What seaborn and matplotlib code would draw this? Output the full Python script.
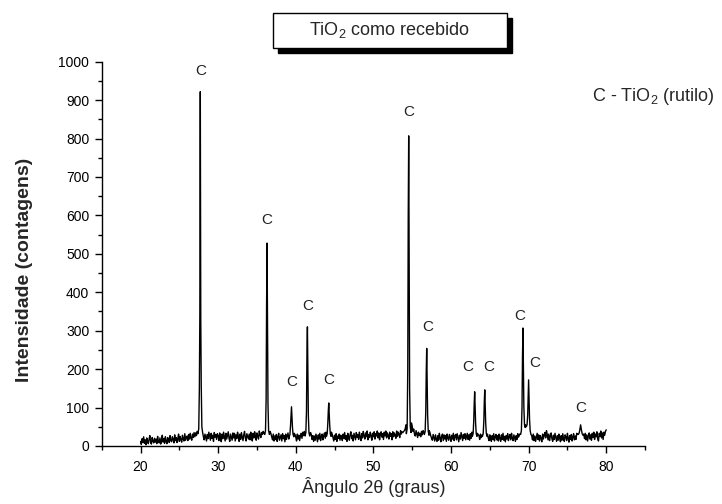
import numpy as np
import pandas as pd
import matplotlib
matplotlib.use("Agg")
import matplotlib.pyplot as plt
from matplotlib.patches import Rectangle
from matplotlib.ticker import MultipleLocator
import seaborn as sns

# Background counts, 20.0 to 80.0 deg in 0.1 deg steps
theta_start = 20.0
theta_step = 0.1
baseline_counts = [
    12, 4, 19, 9, 24, 7, 16, 3, 21, 11, 6, 18, 27, 9, 5, 22, 13, 8, 20, 10,
    18, 6, 25, 12, 8, 21, 5, 15, 28, 10, 19, 7, 24, 13, 6, 22, 16, 9, 27, 14,
    11, 24, 17, 8, 29, 14, 22, 9, 19, 31, 12, 25, 16, 10, 28, 18, 13, 32, 15, 23,
    26, 14, 30, 18, 33, 20, 15, 31, 22, 35, 24, 34, 27, 38, 35, 38, 45, 60, 45, 35,
    34, 24, 16, 31, 22, 13, 30, 19, 36, 25, 15, 33, 20, 28, 12, 35, 23, 30, 17, 32,
    26, 14, 34, 21, 11, 31, 19, 36, 24, 13, 33, 18, 28, 37, 20, 12, 31, 23, 15, 34,
    21, 33, 13, 29, 19, 36, 26, 12, 31, 17, 35, 24, 14, 29, 38, 21, 13, 32, 25, 18,
    31, 16, 36, 23, 13, 33, 21, 37, 27, 15, 34, 25, 18, 39, 29, 22, 35, 30, 38, 33,
    40, 55, 80, 200, 120, 60, 45, 38, 32, 24, 16, 31, 13, 26, 17, 30, 12, 24, 33, 15,
    22, 29, 13, 32, 19, 27, 11, 31, 17, 25, 34, 18, 28, 35, 35, 40, 50, 45, 33, 30,
    23, 13, 31, 18, 28, 14, 26, 33, 20, 36, 27, 38, 38, 45, 60, 80, 70, 50, 40, 35,
    30, 17, 27, 12, 26, 15, 31, 21, 11, 29, 18, 33, 14, 25, 31, 16, 27, 34, 20, 36,
    32, 38, 45, 60, 50, 40, 36, 30, 22, 13, 28, 17, 32, 12, 26, 20, 31, 15, 28, 23,
    14, 31, 20, 35, 17, 27, 12, 33, 23, 15, 30, 37, 19, 28, 13, 33, 25, 16, 35, 22,
    30, 17, 36, 24, 14, 32, 21, 38, 27, 18, 34, 24, 39, 16, 30, 22, 36, 27, 15, 33,
    24, 37, 18, 32, 26, 39, 21, 34, 16, 30, 37, 23, 32, 17, 36, 26, 39, 21, 34, 28,
    18, 36, 25, 32, 16, 37, 24, 34, 28, 20, 39, 25, 36, 30, 22, 40, 31, 37, 35, 38,
    40, 45, 55, 70, 120, 300, 400, 150, 80, 60, 52, 38, 44, 30, 26, 40, 31, 22, 36, 27,
    33, 24, 38, 29, 40, 36, 50, 80, 120, 90, 60, 45, 40, 34, 26, 20, 15, 30, 22, 13,
    29, 18, 12, 27, 15, 33, 21, 11, 26, 31, 14, 29, 18, 27, 12, 31, 21, 15, 30, 23,
    12, 28, 18, 33, 14, 26, 30, 16, 32, 21, 11, 28, 18, 35, 24, 14, 30, 20, 32, 16,
    25, 33, 17, 29, 15, 32, 20, 36, 32, 38, 45, 60, 50, 40, 33, 30, 27, 17, 31, 22,
    28, 35, 45, 60, 50, 40, 36, 31, 21, 14, 29, 19, 12, 27, 17, 32, 13, 24, 30, 16,
    27, 13, 31, 20, 12, 29, 17, 33, 15, 25, 11, 27, 18, 32, 14, 24, 30, 16, 33, 20,
    14, 29, 21, 12, 27, 17, 32, 23, 28, 32, 40, 55, 80, 100, 70, 50, 55, 80, 70, 45,
    60, 45, 35, 38, 27, 16, 31, 14, 26, 12, 23, 33, 17, 29, 13, 27, 20, 11, 31, 18,
    28, 35, 21, 40, 30, 16, 31, 14, 26, 34, 19, 12, 28, 17, 33, 23, 12, 27, 15, 31,
    20, 11, 27, 15, 32, 18, 12, 29, 23, 14, 33, 20, 10, 27, 17, 30, 13, 24, 32, 16,
    26, 17, 33, 30, 33, 38, 45, 50, 42, 35, 30, 31, 19, 33, 16, 29, 13, 26, 34, 18,
    29, 15, 33, 22, 36, 17, 31, 24, 37, 19, 13, 33, 25, 39, 21, 34, 17, 36, 28, 38,
    42,
]

# Rutile reflections: centre (deg) and counts at the listed offsets
peak_centers = [27.7, 36.3, 39.45, 41.5, 44.25, 54.55, 56.87, 63.05, 64.35, 69.27, 70.0, 76.7]
peak_offsets = [-0.3, -0.2, -0.12, -0.06, 0.0, 0.06, 0.12, 0.2, 0.3]
peak_profiles = [
    [32, 45, 150, 340, 922, 330, 160, 50, 35],
    [30, 40, 120, 370, 528, 320, 110, 40, 30],
    [24, 30, 55, 80, 102, 75, 50, 30, 24],
    [26, 35, 90, 240, 310, 190, 80, 35, 26],
    [25, 32, 60, 90, 112, 85, 55, 32, 25],
    [32, 45, 200, 593, 807, 467, 150, 50, 35],
    [30, 38, 90, 190, 254, 170, 80, 38, 28],
    [25, 32, 65, 110, 141, 100, 60, 32, 25],
    [25, 33, 65, 115, 146, 105, 60, 33, 25],
    [30, 40, 100, 230, 307, 210, 100, 55, 48],
    [50, 55, 80, 130, 172, 120, 70, 40, 30],
    [30, 33, 40, 48, 55, 47, 40, 32, 28],
]

# "C" markers above the peaks
label_x = [27.7, 36.3, 39.45, 41.5, 44.25, 54.55, 57.0, 62.2, 64.9, 68.9, 70.8, 76.7]
label_y = [975, 588, 167, 364, 172, 870, 310, 206, 206, 338, 217, 98]

# assemble the pattern
base_theta = theta_start + theta_step * np.arange(len(baseline_counts))
base_counts = np.array(baseline_counts)
keep = np.ones(len(base_theta), dtype=bool)
for c in peak_centers:
    keep &= np.abs(base_theta - c) > 0.3 + 1e-6
thetas = list(base_theta[keep])
counts = list(base_counts[keep])
for c, prof in zip(peak_centers, peak_profiles):
    thetas += [c + o for o in peak_offsets]
    counts += prof
df = pd.DataFrame({"theta": thetas, "counts": counts}).sort_values("theta")

sns.set_theme(style="ticks")
plt.rcParams['font.family'] = ['Liberation Sans', 'DejaVu Sans']
plt.rcParams['axes.edgecolor'] = 'black'
plt.rcParams['xtick.color'] = 'black'
plt.rcParams['ytick.color'] = 'black'

fig = plt.figure(figsize=(7.22, 5.04), dpi=100)
ax = fig.add_axes([0.1409, 0.1151, 0.7525, 0.7625])

sns.lineplot(data=df, x="theta", y="counts", color="black", linewidth=1.0,
             estimator=None, ax=ax)

for lx, ly in zip(label_x, label_y):
    ax.text(lx, ly, "C", fontsize=11, ha="center", va="center", color="#222222")

ax.set_xlim(15, 85)
ax.set_ylim(0, 1000)
ax.xaxis.set_major_locator(MultipleLocator(10))
ax.xaxis.set_minor_locator(MultipleLocator(5))
ax.yaxis.set_major_locator(MultipleLocator(100))
ax.yaxis.set_minor_locator(MultipleLocator(50))
ax.set_xticks([20, 30, 40, 50, 60, 70, 80])
ax.tick_params(which="major", length=5, width=1, labelsize=10, pad=4)
ax.tick_params(axis="x", which="major", pad=5)
ax.tick_params(which="minor", length=3, width=1)
sns.despine(ax=ax)
for s in ["left", "bottom"]:
    ax.spines[s].set_linewidth(1)

ax.set_xlabel("Ângulo 2θ (graus)", fontsize=13)
ax.set_ylabel("Intensidade (contagens)", fontsize=14, fontweight="bold")
ax.xaxis.set_label_coords(0.5, -0.08)
ax.yaxis.set_label_coords(-0.1265, 0.457)

# title box with drop shadow
bx0, bx1 = 272.7 / 722, 506.7 / 722
by0, by1 = 1 - 48.3 / 504, 1 - 12.7 / 504
fig.patches.append(Rectangle((bx0 + 5 / 722, by0 - 5 / 504), bx1 - bx0, by1 - by0,
                             transform=fig.transFigure, facecolor="black",
                             edgecolor="black", zorder=1))
fig.patches.append(Rectangle((bx0, by0), bx1 - bx0, by1 - by0,
                             transform=fig.transFigure, facecolor="white",
                             edgecolor="black", linewidth=1, zorder=2))
fig.text((bx0 + bx1) / 2, (by0 + by1) / 2, r"TiO$_\mathregular{2}$ como recebido",
         fontsize=13, ha="center", va="center", zorder=3)

fig.text(0.8195, 0.8095, r"C - TiO$_\mathregular{2}$ (rutilo)", fontsize=13,
         ha="left", va="center")

fig.savefig("out.png", dpi=100)
